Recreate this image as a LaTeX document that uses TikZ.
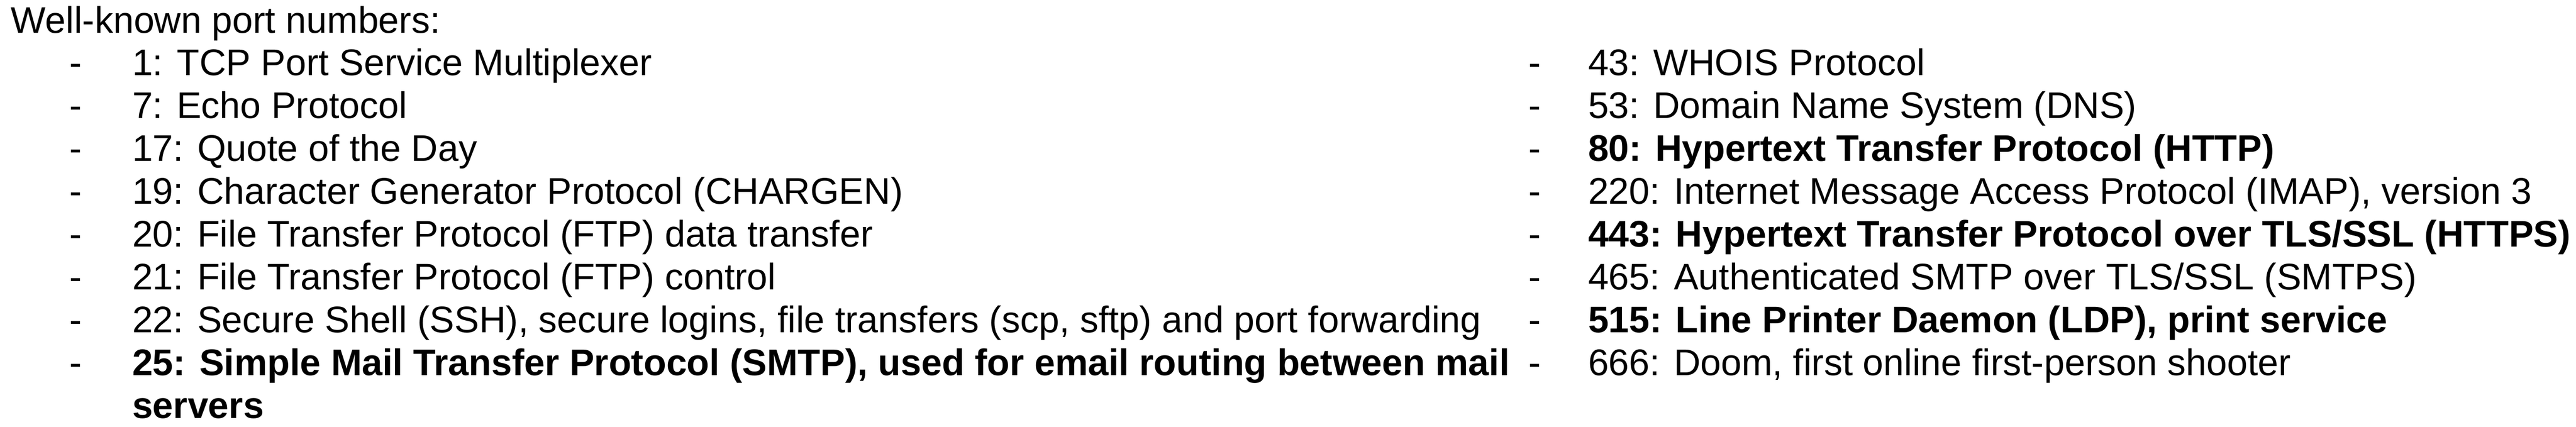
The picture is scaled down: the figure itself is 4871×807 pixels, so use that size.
\documentclass[tikz,border=0pt]{standalone}
\usepackage{fontspec}
\setmainfont{Liberation Sans}
\begin{document}
\begin{tikzpicture}[x=0.2pt,y=-0.2pt,
  txt/.style={anchor=base west,inner sep=0pt,outer sep=0pt,font=\fontsize{14pt}{16pt}\selectfont},
  btxt/.style={txt,font=\fontsize{14pt}{16pt}\selectfont\bfseries}]
\useasboundingbox[fill=white] (0,0) rectangle (4871,807);
\node[txt] (title) at (21,63) {Well-known port numbers:};
% left column
\node[txt] (dl1) at (132,143) {-};
\node[txt] (l1) at (250,143) {1: TCP Port Service Multiplexer};
\node[txt] (dl2) at (132,224) {-};
\node[txt] (l2) at (250,224) {7: Echo Protocol};
\node[txt] (dl3) at (132,305) {-};
\node[txt] (l3) at (250,305) {17: Quote of the Day};
\node[txt] (dl4) at (132,386) {-};
\node[txt] (l4) at (250,386) {19: Character Generator Protocol (CHARGEN)};
\node[txt] (dl5) at (132,467) {-};
\node[txt] (l5) at (250,467) {20: File Transfer Protocol (FTP) data transfer};
\node[txt] (dl6) at (132,548) {-};
\node[txt] (l6) at (250,548) {21: File Transfer Protocol (FTP) control};
\node[txt] (dl7) at (132,629) {-};
\node[txt] (l7) at (250,629) {22: Secure Shell (SSH), secure logins, file transfers (scp, sftp) and port forwarding};
\node[txt] (dl8) at (132,710) {-};
\node[btxt] (l8) at (250,710) {25: Simple Mail Transfer Protocol (SMTP), used for email routing between mail};
\node[btxt] (l8b) at (250,791) {servers};
% right column
\node[txt] (dr1) at (2890,143) {-};
\node[txt] (r1) at (3003,143) {43: WHOIS Protocol};
\node[txt] (dr2) at (2890,224) {-};
\node[txt] (r2) at (3003,224) {53: Domain Name System (DNS)};
\node[txt] (dr3) at (2890,305) {-};
\node[btxt] (r3) at (3003,305) {80: Hypertext Transfer Protocol (HTTP)};
\node[txt] (dr4) at (2890,386) {-};
\node[txt] (r4) at (3003,386) {220: Internet Message Access Protocol (IMAP), version 3};
\node[txt] (dr5) at (2890,467) {-};
\node[btxt] (r5) at (3003,467) {443: Hypertext Transfer Protocol over TLS/SSL (HTTPS)};
\node[txt] (dr6) at (2890,548) {-};
\node[txt] (r6) at (3003,548) {465: Authenticated SMTP over TLS/SSL (SMTPS)};
\node[txt] (dr7) at (2890,629) {-};
\node[btxt] (r7) at (3003,629) {515: Line Printer Daemon (LDP), print service};
\node[txt] (dr8) at (2890,710) {-};
\node[txt] (r8) at (3003,710) {666: Doom, first online first-person shooter};
\end{tikzpicture}
\end{document}
